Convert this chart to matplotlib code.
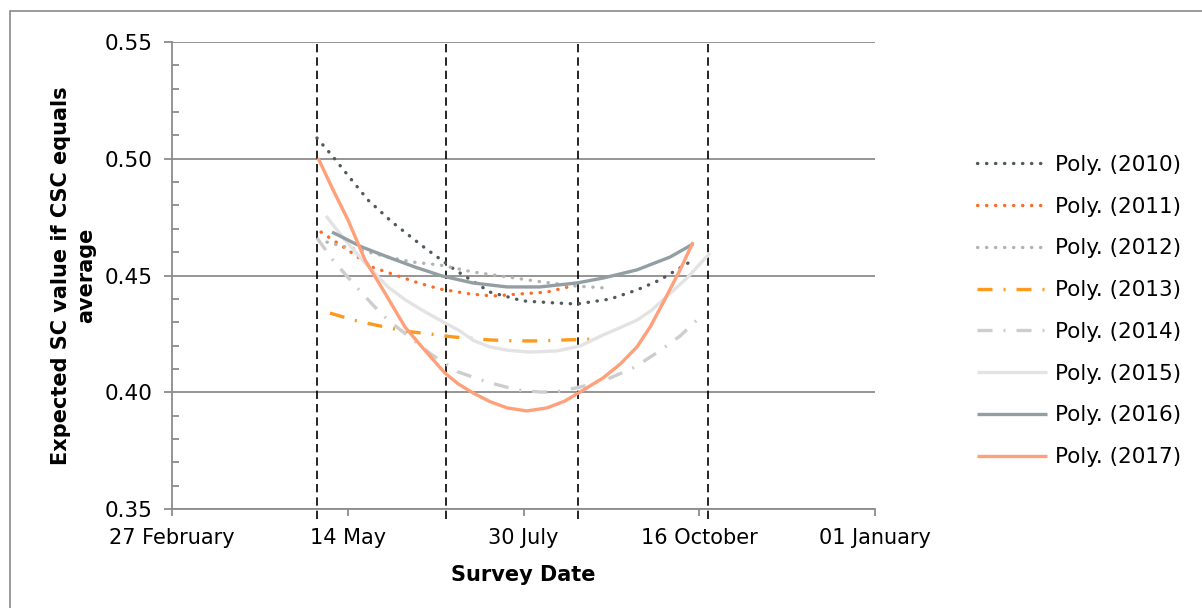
import matplotlib
matplotlib.use("Agg")
from matplotlib import pyplot as plt
from matplotlib.patches import Rectangle

# x values are days after 27 February
tick_labels = ["27 February", "14 May", "30 July", "16 October", "01 January"]
tick_days = [0, 77, 154, 231, 308]
survey_days = [63.5, 120, 178, 235]

days_2010 = [63.5, 70, 77, 85.9, 96.4, 110.8, 124.0, 139.3, 153.8, 168.7, 177.4, 191.9, 203.7, 213.8, 226.9]
vals_2010 = [0.5089, 0.5015, 0.4930, 0.4823, 0.4729, 0.4618, 0.4524, 0.4429, 0.4391, 0.4382, 0.4378,
             0.4399, 0.4438, 0.4481, 0.4558]

days_2011 = [65.3, 77.1, 87.6, 99.0, 108.0, 117.4, 130.6, 140.6, 152.5, 164.3, 173.5]
vals_2011 = [0.4686, 0.4609, 0.4536, 0.4498, 0.4468, 0.4442, 0.4421, 0.4412, 0.4421, 0.4429, 0.4451]

days_2012 = [67.9, 74.5, 82.4, 94.6, 105.1, 117.4, 131.9, 146.8, 162.5, 176.6, 190.6]
vals_2012 = [0.4643, 0.4626, 0.4609, 0.4579, 0.4558, 0.4545, 0.4515, 0.4494, 0.4472, 0.4455, 0.4446]

days_2013 = [69.2, 81.1, 91.1, 102.1, 113.5, 123.1, 139.3, 150.3, 161.2, 172.2, 186.6]
vals_2013 = [0.4339, 0.4305, 0.4284, 0.4262, 0.4249, 0.4237, 0.4224, 0.4220, 0.4220, 0.4224, 0.4228]

days_2014 = [63.5, 70.5, 76.2, 82.8, 88.5, 95.1, 102.5, 113.9, 125.3, 138.0, 151.1, 161.2, 167.8,
             178.8, 191.0, 202.8, 212.9, 222.6, 230.5]
vals_2014 = [0.4661, 0.4566, 0.4502, 0.4429, 0.4369, 0.4305, 0.4249, 0.4160, 0.4087, 0.4044, 0.4010,
             0.4001, 0.4001, 0.4022, 0.4057, 0.4108, 0.4172, 0.4241, 0.4314]

days_2015 = [67.5, 75.8, 84.6, 94.6, 102.0, 109.5, 119.6, 126.2, 132.0, 139.3, 147.0, 156.8, 168.7,
             178.8, 188.8, 196.0, 203.7, 210.0, 215.1, 225.6, 235.7]
vals_2015 = [0.4755, 0.4652, 0.4553, 0.4451, 0.4397, 0.4352, 0.4297, 0.4262, 0.4222, 0.4194, 0.4180,
             0.4172, 0.4177, 0.4198, 0.4245, 0.4275, 0.4309, 0.4350, 0.4395, 0.4489, 0.4596]

days_2016 = [70.1, 83.2, 94.6, 106.5, 118.3, 131.9, 146.8, 161.2, 177.4, 188.8, 203.7, 218.2, 228.3]
vals_2016 = [0.4686, 0.4622, 0.4579, 0.4536, 0.4498, 0.4468, 0.4451, 0.4451, 0.4468, 0.4489, 0.4524,
             0.4579, 0.4635]

days_2017 = [64.0, 70.5, 77.1, 84.6, 93.3, 102.1, 109.5, 119.6, 125.5, 131.9, 139.3, 146.8, 155.5,
             164.3, 172.0, 178.8, 188.8, 196.5, 203.7, 209.5, 215.1, 222.6, 228.3]
vals_2017 = [0.5003, 0.4868, 0.4738, 0.4566, 0.4425, 0.4279, 0.4194, 0.4082, 0.4035, 0.3997, 0.3960,
             0.3933, 0.3920, 0.3933, 0.3962, 0.4001, 0.4061, 0.4122, 0.4194, 0.4280, 0.4382, 0.4524,
             0.4643]

dot = (0, (0.1, 2.6))
dashdot = (0, (4.5, 3.3, 0.6, 3.3))

series = [
    ("Poly. (2010)", days_2010, vals_2010, "#505a5e", dot),
    ("Poly. (2011)", days_2011, vals_2011, "#ff6a28", dot),
    ("Poly. (2012)", days_2012, vals_2012, "#b3b3b3", dot),
    ("Poly. (2013)", days_2013, vals_2013, "#fd9a1e", dashdot),
    ("Poly. (2014)", days_2014, vals_2014, "#cdcdcd", dashdot),
    ("Poly. (2015)", days_2015, vals_2015, "#e3e3e3", "-"),
    ("Poly. (2016)", days_2016, vals_2016, "#939ea3", "-"),
    ("Poly. (2017)", days_2017, vals_2017, "#ffa07a", "-"),
]

plt.rcParams["font.family"] = ["DejaVu Sans"]
fig = plt.figure(figsize=(12.02, 6.08), dpi=100)
ax = fig.add_axes([172 / 1202, 1 - 509 / 608, 703 / 1202, 467 / 608])

grid_col = "#8c8c8c"
ax.set_xlim(0, 308)
ax.set_ylim(0.35, 0.55)
ax.set_yticks([0.35, 0.40, 0.45, 0.50, 0.55])
ax.set_yticks([0.35 + 0.01 * i for i in range(21)], minor=True)
ax.set_yticklabels(["0.35", "0.40", "0.45", "0.50", "0.55"], fontsize=15.5)
ax.set_xticks(tick_days)
ax.set_xticklabels(tick_labels, fontsize=15)
ax.grid(axis="y", color=grid_col, lw=1.3)
ax.set_axisbelow(True)
for s in ["top", "right"]:
    ax.spines[s].set_visible(False)
for s in ["left", "bottom"]:
    ax.spines[s].set_color(grid_col)
    ax.spines[s].set_linewidth(1.3)
ax.tick_params(axis="y", which="major", direction="out", length=6, color=grid_col, width=1.3, pad=8)
ax.tick_params(axis="y", which="minor", direction="in", length=5, color=grid_col, width=1.3)
ax.tick_params(axis="x", which="major", direction="out", length=5, color=grid_col, width=1.3, pad=9)

for d in survey_days:
    ax.plot([d, d], [0.3457, 0.55], color="black", lw=1.2, ls=(0, (5, 3)), clip_on=False, zorder=3)

for label, xs, ys, col, ls in series:
    ax.plot(xs, ys, color=col, lw=2.4, ls=ls, label=label, solid_capstyle="butt",
            dash_capstyle="round" if ls == dot else "butt", solid_joinstyle="round", zorder=4)

ax.set_xlabel("Survey Date", fontsize=15, fontweight="bold", labelpad=12)
ax.set_ylabel("Expected SC value if CSC equals\naverage", fontsize=15, fontweight="bold",
              labelpad=6, linespacing=1.3)

fig.legend(loc="center left", bbox_to_anchor=(977 / 1202, 1 - 311 / 608), frameon=False,
           fontsize=15.5, handlelength=3.25, handletextpad=0.37, labelspacing=1.01,
           borderpad=0, borderaxespad=0)

fig.patches.append(Rectangle((10 / 1202, -0.1), 2, 1.1 - 11 / 608, transform=fig.transFigure,
                             fill=False, edgecolor="#8a8a8a", lw=1.2))

fig.savefig("out.png", dpi=100)
